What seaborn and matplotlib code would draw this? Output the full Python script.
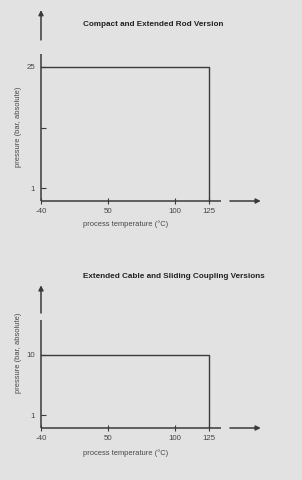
import matplotlib
matplotlib.use("Agg")
import matplotlib.pyplot as plt
import seaborn as sns
import pandas as pd

# ---------------- data ----------------
temp_ticks = [-40, 50, 100, 125]
temp_tick_labels = ["-40", "50", "100", "125"]
titles = ["Compact and Extended Rod Version",
          "Extended Cable and Sliding Coupling Versions"]
max_pressures = [25, 10]
min_temp = -40
max_temp = 125
top_pressure_ticks = [1, 10, 25]
top_pressure_labels = ["1", "", "25"]
bottom_pressure_ticks = [1, 10]
bottom_pressure_labels = ["1", "10"]
x_label = "process temperature (°C)"
y_label = "pressure (bar, absolute)"

# ------------- schematic layout (chart is not to scale) -------------
X_POS = {-40: 0.0, 50: 1.0, 100: 2.0, 125: 2.5}
Y_POS = {0: 0.0, 1: 0.213, 10: 1.197, 25: 2.197}
W, H = 302, 480
XU, YU = 67.0, 61.0          # pixels per schematic unit
BG = "#e2e2e2"
LINE = "#3a3a3a"
TXT = "#474747"

sns.set_theme(style="white")
plt.rcParams["font.family"] = ["Liberation Sans", "DejaVu Sans"]

fig = plt.figure(figsize=(W / 100, H / 100), dpi=100)
fig.patch.set_facecolor(BG)

panels = [
    dict(oy=201, pmax=max_pressures[0], title=titles[0], yt=top_pressure_ticks,
         yl=top_pressure_labels, ygap=(2.41, 2.64), ytip=3.13, title_y=25,
         ylab_y=127, xlab_y=224),
    dict(oy=428, pmax=max_pressures[1], title=titles[1], yt=bottom_pressure_ticks,
         yl=bottom_pressure_labels, ygap=(1.77, 1.885), ytip=2.34, title_y=277,
         ylab_y=353, xlab_y=453),
]

for p in panels:
    ytop = Y_POS[p["pmax"]]
    ax = fig.add_axes([41 / W, (H - p["oy"]) / H, 2.5 * XU / W, ytop * YU / H])
    ax.set_facecolor("none")
    for s in ax.spines.values():
        s.set_visible(False)

    # operating limit line
    df = pd.DataFrame({
        "temp": [min_temp, max_temp, max_temp],
        "pressure": [p["pmax"], p["pmax"], 0],
    })
    df["x"] = df["temp"].map(X_POS)
    df["y"] = df["pressure"].map(Y_POS)
    sns.lineplot(data=df, x="x", y="y", sort=False, estimator=None, ax=ax,
                 color=LINE, linewidth=1.0, clip_on=False)

    ax.set_xlim(0, 2.5)
    ax.set_ylim(0, ytop)

    # axes with breaks and arrows
    g0, g1 = p["ygap"]
    ax.plot([0, 0], [0, g0], color=LINE, lw=1.1, clip_on=False, solid_capstyle="butt")
    ax.annotate("", xy=(0, p["ytip"]), xytext=(0, g1),
                arrowprops=dict(arrowstyle="-|>", color=LINE, lw=1.1,
                                mutation_scale=7, shrinkA=0, shrinkB=0),
                annotation_clip=False)
    ax.plot([0, 2.69], [0, 0], color=LINE, lw=1.1, clip_on=False, solid_capstyle="butt")
    ax.annotate("", xy=(3.28, 0), xytext=(2.82, 0),
                arrowprops=dict(arrowstyle="-|>", color=LINE, lw=1.1,
                                mutation_scale=7, shrinkA=0, shrinkB=0),
                annotation_clip=False)

    # ticks
    ax.set_xticks([X_POS[t] for t in temp_ticks])
    ax.set_xticklabels(temp_tick_labels)
    ax.set_yticks([Y_POS[v] for v in p["yt"]])
    ax.set_yticklabels(p["yl"])
    ax.tick_params(axis="x", direction="inout", length=4.5, width=0.8, color=LINE,
                   labelsize=5.7, labelcolor=TXT, pad=2.8, bottom=True)
    ax.tick_params(axis="y", direction="in", length=3.6, width=0.8, color=LINE,
                   labelsize=5.7, labelcolor=TXT, pad=4.2, left=True)
    ax.grid(False)

    # labels and title
    ax.set_xlabel(x_label, fontsize=5.4, color=TXT, ha="left", va="center")
    ax.xaxis.set_label_coords((83 - 41) / (2.5 * XU), -(p["xlab_y"] - p["oy"]) / (ytop * YU))
    ax.set_ylabel(y_label, fontsize=5.4, color=TXT, va="center")
    ax.yaxis.set_label_coords((19 - 41) / (2.5 * XU), (p["oy"] - p["ylab_y"]) / (ytop * YU))
    ax.set_title(p["title"], fontsize=5.9, fontweight="bold", color="#222222",
                 loc="left", x=(83 - 41) / (2.5 * XU),
                 y=(p["oy"] - p["title_y"]) / (ytop * YU), va="center", pad=0)

fig.savefig("out.png", dpi=100, facecolor=BG)
